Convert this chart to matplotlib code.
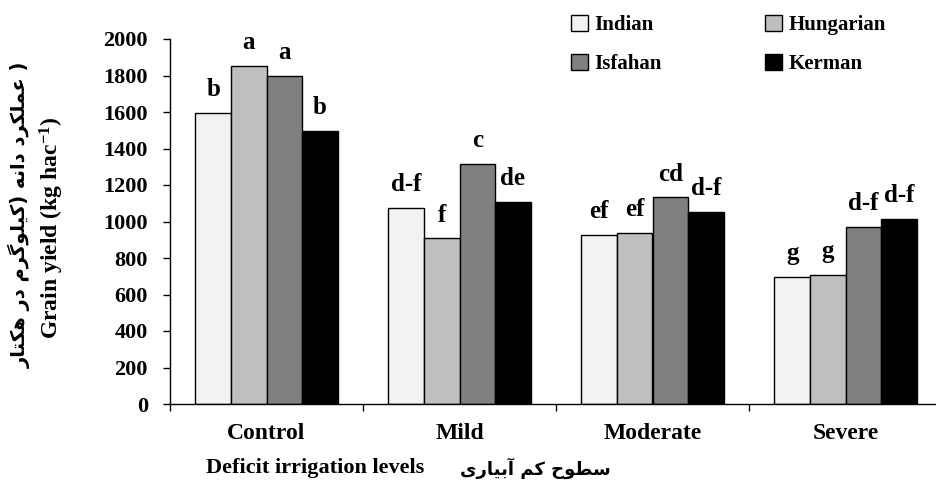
import matplotlib
matplotlib.use("Agg")
import matplotlib.pyplot as plt
import numpy as np
from matplotlib.patches import Patch

# ---------------- data ----------------
categories = ["Control", "Mild", "Moderate", "Severe"]
series_names = ["Indian", "Hungarian", "Isfahan", "Kerman"]
indian = [1595, 1076, 926, 696]
hungarian = [1852, 908, 939, 707]
isfahan = [1797, 1315, 1132, 970]
kerman = [1497, 1108, 1054, 1016]
letters_indian = ["b", "d-f", "ef", "g"]
letters_hungarian = ["a", "f", "ef", "g"]
letters_isfahan = ["a", "c", "cd", "d-f"]
letters_kerman = ["b", "de", "d-f", "d-f"]
yticks = [0, 200, 400, 600, 800, 1000, 1200, 1400, 1600, 1800, 2000]

colors = ["#f2f2f2", "#bfbfbf", "#808080", "#000000"]

# ---------------- simple Persian shaping ----------------
FORMS = {
    'ا': ('\uFE8D', '\uFE8E', None, None),
    'آ': ('\uFE81', '\uFE82', None, None),
    'ب': ('\uFE8F', '\uFE90', '\uFE91', '\uFE92'),
    'ت': ('\uFE95', '\uFE96', '\uFE97', '\uFE98'),
    'ح': ('\uFEA1', '\uFEA2', '\uFEA3', '\uFEA4'),
    'د': ('\uFEA9', '\uFEAA', None, None),
    'ر': ('\uFEAD', '\uFEAE', None, None),
    'س': ('\uFEB1', '\uFEB2', '\uFEB3', '\uFEB4'),
    'ط': ('\uFEC1', '\uFEC2', '\uFEC3', '\uFEC4'),
    'ع': ('\uFEC9', '\uFECA', '\uFECB', '\uFECC'),
    'ک': ('\uFB8E', '\uFB8F', '\uFB90', '\uFB91'),
    'گ': ('\uFB92', '\uFB93', '\uFB94', '\uFB95'),
    'ل': ('\uFEDD', '\uFEDE', '\uFEDF', '\uFEE0'),
    'م': ('\uFEE1', '\uFEE2', '\uFEE3', '\uFEE4'),
    'ن': ('\uFEE5', '\uFEE6', '\uFEE7', '\uFEE8'),
    'ه': ('\uFEE9', '\uFEEA', '\uFEEB', '\uFEEC'),
    'و': ('\uFEED', '\uFEEE', None, None),
    'ی': ('\uFBFC', '\uFBFD', '\uFBFE', '\uFBFF'),
}
MIRROR = {'(': ')', ')': '('}


def shape_fa(s):
    out = []
    n = len(s)
    for i, ch in enumerate(s):
        if ch not in FORMS:
            out.append(MIRROR.get(ch, ch))
            continue
        prev = s[i - 1] if i > 0 else ''
        nxt = s[i + 1] if i < n - 1 else ''
        jp = prev in FORMS and FORMS[prev][2] is not None
        jn = nxt in FORMS and FORMS[ch][2] is not None
        iso, fin, ini, med = FORMS[ch]
        if jp and jn:
            out.append(med)
        elif jp:
            out.append(fin)
        elif jn:
            out.append(ini)
        else:
            out.append(iso)
    return ''.join(reversed(out))


plt.rcParams['font.family'] = ['Liberation Serif', 'DejaVu Sans']
plt.rcParams['font.weight'] = 'bold'
plt.rcParams['mathtext.fontset'] = 'custom'
plt.rcParams['mathtext.rm'] = 'Liberation Serif:bold'
plt.rcParams['mathtext.it'] = 'Liberation Serif:bold'
plt.rcParams['mathtext.bf'] = 'Liberation Serif:bold'
plt.rcParams['mathtext.default'] = 'rm'

W, H = 936, 484
fig = plt.figure(figsize=(W / 100, H / 100), dpi=100)
ax = fig.add_axes([170 / W, (H - 404) / H, (936 - 170) / W, (404 - 39) / H])

x = np.arange(len(categories))
bw = 0.184
all_series = [indian, hungarian, isfahan, kerman]
all_letters = [letters_indian, letters_hungarian, letters_isfahan, letters_kerman]
for k, (vals, lets) in enumerate(zip(all_series, all_letters)):
    xs = x + (k - 1.5) * bw
    ax.bar(xs, vals, width=bw, color=colors[k], edgecolor='black', linewidth=1.0,
           label=series_names[k], zorder=2)
    for xi, v, l in zip(xs, vals, lets):
        ax.annotate(l, (xi, v), xytext=(0, 12), textcoords='offset points',
                    ha='center', va='baseline', fontsize=18, fontweight='bold')

ax.set_ylim(0, 2000)
ax.set_xlim(-0.5, 3.5 - 6 / 193)
ax.set_yticks(yticks)
ax.set_yticklabels([str(t) for t in yticks], fontsize=16, fontweight='bold')
ax.set_xticks([-0.5, 0.5, 1.5, 2.5])
ax.set_xticklabels([])
ax.set_xticks(x, minor=True)
ax.set_xticklabels(categories, minor=True, fontsize=17, fontweight='bold')
ax.tick_params(axis='x', which='major', direction='out', length=5, width=1)
ax.tick_params(axis='x', which='minor', length=0, pad=14)
ax.tick_params(axis='y', direction='out', length=5, width=1, pad=11)
for s in ['top', 'right']:
    ax.spines[s].set_visible(False)
for s in ['left', 'bottom']:
    ax.spines[s].set_linewidth(1.0)

# axis titles
fig.text(315 / W, 1 - 468 / H, "Deficit irrigation levels", ha='center', va='center',
         fontsize=16, fontweight='bold')
fig.text(535 / W, 1 - 468 / H, shape_fa("سطوح کم آبیاری"), ha='center', va='center',
         fontsize=13, fontweight='bold', family=['DejaVu Sans'])
fig.text(52 / W, 1 - 228 / H, r"Grain yield (kg hac$^{-1}$)", ha='center', va='center',
         rotation=90, fontsize=17, fontweight='bold')
fig.text(20 / W, 1 - 215 / H, shape_fa("عملکرد دانه (کیلوگرم در هکتار") + " )",
         ha='center', va='center', rotation=90, fontsize=14, fontweight='bold',
         family=['DejaVu Sans'])

handles = [Patch(facecolor=c, edgecolor='black', linewidth=1.0) for c in colors]
order = [0, 2, 1, 3]  # row-wise layout: Indian, Hungarian / Isfahan, Kerman
leg = fig.legend([handles[i] for i in order], [series_names[i] for i in order],
                 ncol=2, loc='upper left',
                 bbox_to_anchor=(571 / W, 1 - 15 / H), frameon=False,
                 prop={'family': 'Liberation Serif', 'weight': 'bold', 'size': 15},
                 handlelength=0.8, handleheight=0.8, handletextpad=0.3,
                 columnspacing=5.0, labelspacing=0.9, borderpad=0, borderaxespad=0)

fig.savefig("out.png", dpi=100)
